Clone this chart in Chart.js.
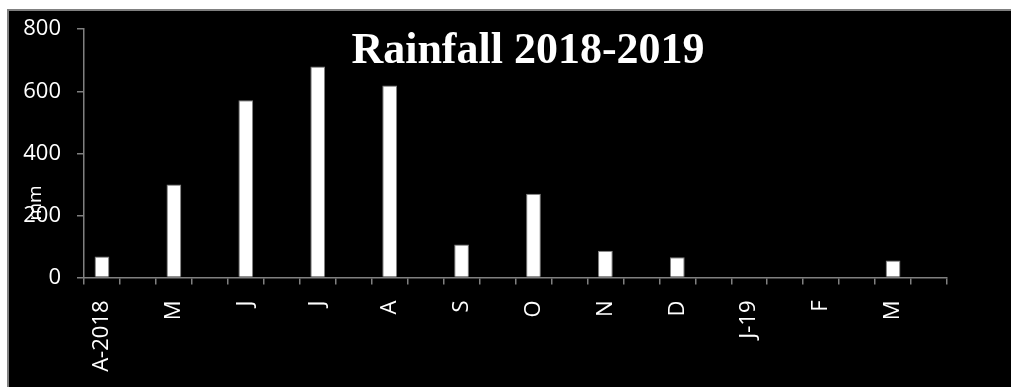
<!DOCTYPE html>
<html>
<head>
<meta charset="utf-8">
<title>Rainfall 2018-2019</title>
<script src="https://cdn.jsdelivr.net/npm/chart.js@4/dist/chart.umd.min.js"></script>
<style>
  html, body { margin: 0; padding: 0; background: #fff; overflow: hidden; }
  #frame {
    position: absolute; left: 7px; top: 9px; width: 1004px; height: 378px;
    background: #000;
    border-left: 2px solid #808080;
    border-top: 2px solid #808080;
  }
  #rain-chart { position: absolute; left: 0; top: 0; }
</style>
</head>
<body>
<div id="frame"></div>
<canvas id="rain-chart" width="1011" height="387"></canvas>
<script>
// monthly rainfall, one empty slot after every month
const months = ['A-2018', '', 'M', '', 'J', '', 'J', '', 'A', '', 'S', '', 'O', '', 'N', '', 'D', '', 'J-19', '', 'F', '', 'M', ''];
const rainfall = [68, null, 300, null, 571, null, 680, null, 619, null, 106, null, 270, null, 86, null, 65, null, 0, null, 0, null, 55, null];
const yTicks = [0, 200, 400, 600, 800];

const chartTitle = 'Rainfall 2018-2019';
const yTitle = 'mm';

const axisGray = '#808080';
const tickFont = { family: 'Open Sans', size: 22 };

// title and axis name sit on top of the plot, drawn after everything else
const overlayText = {
    id: 'overlayText',
    afterDraw(chart) {
        let ctx = chart.ctx;
        ctx.save();
        ctx.fillStyle = '#fff';
        ctx.font = 'bold 44px "Liberation Serif"';
        ctx.textAlign = 'center';
        ctx.textBaseline = 'alphabetic';
        ctx.fillText(chartTitle, 528, 63);

        ctx.font = '19px "Open Sans"';
        ctx.translate(36, 203);
        ctx.rotate(-Math.PI / 2);
        ctx.textBaseline = 'middle';
        ctx.fillText(yTitle, 0, 0);
        ctx.restore();
    }
};

let rainChart = new Chart(document.getElementById('rain-chart'), {
    type: 'bar',
    data: {
        labels: months,
        datasets: [{
            data: rainfall,
            backgroundColor: '#fff',
            borderColor: axisGray,
            borderWidth: 1,
            categoryPercentage: 1,
            barPercentage: 0.41
        }]
    },
    options: {
        responsive: false,
        animation: false,
        layout: {
            padding: { top: 25, right: 64, bottom: 0, left: 0 }
        },
        plugins: {
            legend: { display: false },
            tooltip: { enabled: false }
        },
        scales: {
            x: {
                afterFit: (scale) => { scale.height = 109.5; },
                grid: {
                    offset: true,
                    drawOnChartArea: false,
                    drawTicks: true,
                    tickLength: 7,
                    color: axisGray,
                    lineWidth: 1.5
                },
                border: { color: axisGray, width: 1.5 },
                ticks: {
                    color: '#fff',
                    font: tickFont,
                    autoSkip: false,
                    minRotation: 90,
                    maxRotation: 90,
                    padding: 16
                }
            },
            y: {
                min: 0,
                max: 800,
                afterFit: (scale) => { scale.width = 84; },
                afterBuildTicks: (scale) => { scale.ticks = yTicks.map(v => ({ value: v })); },
                grid: {
                    drawOnChartArea: false,
                    drawTicks: true,
                    tickLength: 7,
                    color: axisGray,
                    lineWidth: 1.5
                },
                border: { color: axisGray, width: 1.5 },
                ticks: {
                    color: '#fff',
                    font: tickFont,
                    padding: 16
                }
            }
        }
    },
    plugins: [overlayText]
});
</script>
</body>
</html>
